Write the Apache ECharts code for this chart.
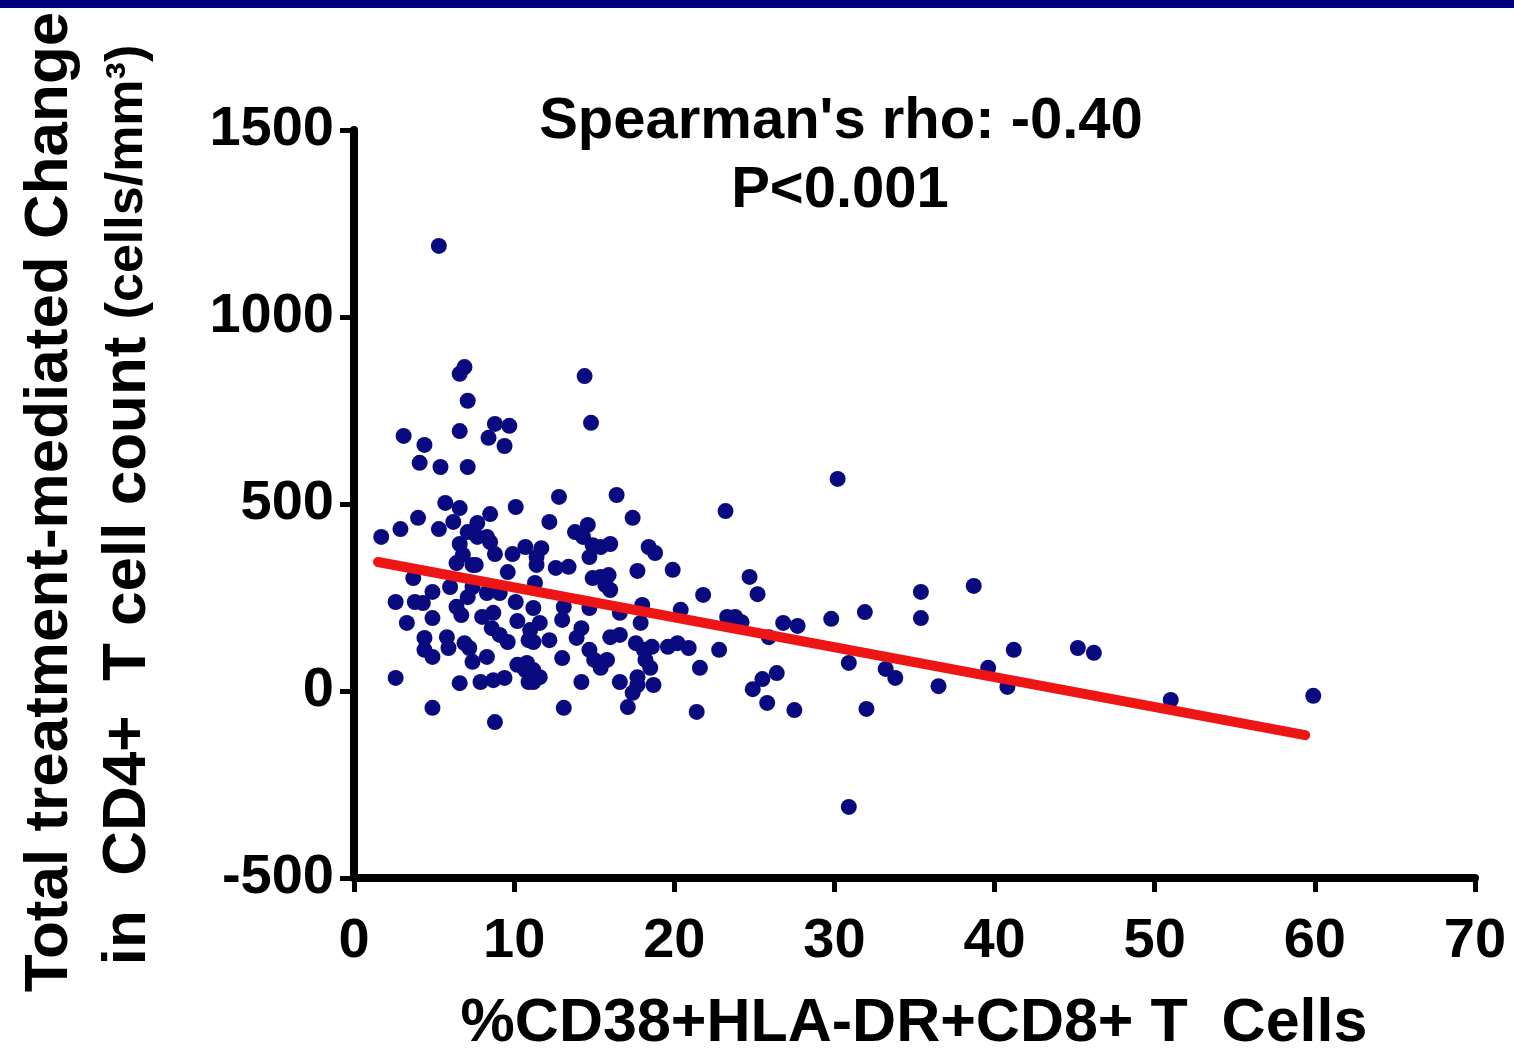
<!DOCTYPE html>
<html>
<head>
<meta charset="utf-8">
<title>CD4 change vs activated CD8 T cells</title>
<script src="https://cdn.jsdelivr.net/npm/echarts@6/dist/echarts.min.js"></script>
<style>
    html, body { margin: 0; padding: 0; background: #fff; }
    #chart { width: 1514px; height: 1050px; }
</style>
</head>
<body>
<div id="chart"></div>
<script>
// each point: [%CD38+HLA-DR+CD8+ T cells, change in CD4+ count]
const points = [
    [5.3, 1190], [6.9, 866], [6.6, 848], [14.4, 842],
    [7.1, 776], [3.1, 682], [4.4, 658], [6.6, 695], [8.8, 714], [9.7, 709], [8.4, 677], [9.4, 655],
    [4.1, 610], [5.4, 599], [7.1, 599], [5.7, 503], [6.6, 489], [10.1, 492], [8.5, 473], [4.0, 463],
    [2.9, 433], [1.7, 412], [5.3, 433], [6.2, 452], [7.7, 449], [7.1, 425], [7.7, 412], [6.6, 393],
    [8.5, 398], [10.7, 385], [8.8, 366], [9.9, 366], [6.8, 364], [8.3, 412],
    [14.8, 717], [12.8, 519], [16.4, 524], [12.2, 452], [17.4, 463], [13.8, 425], [14.6, 444], [14.3, 412],
    [14.9, 390], [15.4, 385], [16.0, 393], [11.7, 382], [18.4, 385], [18.8, 369], [14.7, 358],
    [7.4, 337], [6.4, 342], [7.6, 337], [9.6, 318], [3.7, 302], [6.0, 278], [4.9, 265], [7.4, 278],
    [7.1, 251], [8.3, 262], [9.1, 262], [2.6, 238], [3.8, 238], [4.3, 235], [6.4, 225], [6.7, 203],
    [10.1, 238], [3.3, 182], [4.9, 195], [8.0, 198], [8.7, 209], [10.2, 187], [8.6, 168], [9.1, 150],
    [9.6, 131], [4.4, 142], [5.8, 144], [4.4, 110], [5.9, 115], [4.9, 91], [6.9, 128], [7.2, 115],
    [8.3, 91], [7.4, 78], [10.2, 70], [10.7, 56], [2.6, 35], [6.6, 21], [7.9, 24], [8.7, 29],
    [9.4, 35], [10.9, 24], [4.9, -45], [8.8, -83], [10.9, 136],
    [11.4, 358], [11.4, 337], [12.6, 329], [13.4, 332], [14.9, 302], [15.4, 305], [15.9, 310], [15.7, 283],
    [16.0, 270], [17.7, 321], [19.9, 324], [21.8, 257], [11.3, 289], [18.0, 230], [20.4, 217], [13.1, 225],
    [14.7, 222], [16.6, 209], [11.2, 222], [11.6, 182], [11.0, 163], [11.2, 131], [13.0, 190], [17.9, 182],
    [14.2, 168], [13.9, 142], [12.2, 136], [16.0, 144], [16.6, 150], [14.7, 110], [15.0, 83], [15.4, 62],
    [15.8, 83], [17.6, 128], [18.1, 110], [18.2, 83], [18.5, 62], [18.6, 118], [19.6, 118], [20.2, 128],
    [20.9, 115], [13.0, 88], [10.8, 75], [11.2, 56], [11.6, 37], [11.2, 24], [17.7, 37], [17.7, 16],
    [17.4, -5], [18.7, 16], [21.6, 62], [14.2, 24], [16.6, 24], [13.1, -45], [17.1, -43], [21.4, -56],
    [30.2, 567], [23.2, 481], [24.7, 305], [25.2, 259], [23.3, 198], [23.8, 198], [24.2, 184], [26.8, 182],
    [27.7, 174], [25.9, 144], [29.8, 193], [31.9, 211], [35.4, 265], [35.4, 195], [22.8, 110], [30.9, 75],
    [26.4, 48], [25.5, 32], [24.9, 5], [25.8, -32], [33.2, 59], [33.8, 35], [36.5, 13], [27.5, -51],
    [32.0, -48], [30.9, -310],
    [38.7, 281], [41.2, 110], [39.6, 62], [40.8, 11], [45.2, 115], [46.2, 102], [51.0, -24], [59.9, -13]
];

// ends of the fitted red line
const fitX = [1.5, 59.4];
const fitY = [345, -118];

// axis ranges: min, max, step
const xScale = [0, 70, 10];
const yScale = [-500, 1500, 500];

const statText = ["Spearman's rho: -0.40", 'P<0.001'];

const fontFamily = "'Liberation Sans', Arial, sans-serif";
const chart = echarts.init(document.getElementById('chart'), null, { renderer: 'canvas' });

const axisCommon = {
    type: 'value',
    splitLine: { show: false },
    axisLine: { show: true, onZero: false, lineStyle: { color: '#000', width: 8 } },
    axisTick: { show: true, length: 14, lineStyle: { color: '#000', width: 5 } },
    axisLabel: {
        color: '#000', fontSize: 56, fontWeight: 'bold', fontFamily: fontFamily,
        formatter: v => String(v)   // no thousands separator
    }
};

chart.setOption({
    animation: false,
    backgroundColor: '#fff',
    grid: { left: 354, right: 39, top: 130, bottom: 172, outerBoundsMode: 'none' },
    xAxis: Object.assign({}, axisCommon, {
        min: xScale[0], max: xScale[1], interval: xScale[2],
        axisLabel: Object.assign({}, axisCommon.axisLabel, { margin: 36 })
    }),
    yAxis: Object.assign({}, axisCommon, {
        min: yScale[0], max: yScale[1], interval: yScale[2],
        axisLabel: Object.assign({}, axisCommon.axisLabel, { margin: 20 })
    }),
    graphic: [
        // navy strip along the top
        { type: 'rect', shape: { x: 0, y: 0, width: 1514, height: 8 }, style: { fill: '#00007f' } },
        {
            type: 'text', x: 841, y: 122,
            style: { text: statText[0], fontSize: 58, fontWeight: 'bold', fontFamily: fontFamily, fill: '#000', align: 'center', verticalAlign: 'middle' }
        },
        {
            type: 'text', x: 840, y: 191,
            style: { text: statText[1], fontSize: 58, fontWeight: 'bold', fontFamily: fontFamily, fill: '#000', align: 'center', verticalAlign: 'middle' }
        },
        {
            type: 'text', x: 914, y: 1024,
            style: { text: '%CD38+HLA-DR+CD8+ T  Cells', fontSize: 61, fontWeight: 'bold', fontFamily: fontFamily, fill: '#000', align: 'center', verticalAlign: 'middle' }
        },
        // y axis title, two rotated lines
        {
            type: 'text', x: 50, y: 502, rotation: Math.PI / 2,
            style: { text: 'Total treatment-mediated Change', fontSize: 62, fontWeight: 'bold', fontFamily: fontFamily, fill: '#000', align: 'center', verticalAlign: 'middle' }
        },
        {
            type: 'text', x: 128, y: 505, rotation: Math.PI / 2,
            style: {
                text: '{a|in  CD4+  T cell count }{b|(cells/mm³)}',
                fill: '#000', align: 'center', verticalAlign: 'middle',
                rich: {
                    a: { fontSize: 62, fontWeight: 'bold', fontFamily: fontFamily, fill: '#000' },
                    b: { fontSize: 52, fontWeight: 'bold', fontFamily: fontFamily, fill: '#000' }
                }
            }
        }
    ],
    series: [
        {
            type: 'scatter',
            data: points,
            symbolSize: 16,
            itemStyle: { color: '#0a0a80', opacity: 1 },
            z: 2
        },
        {
            type: 'line',
            data: fitX.map((x, i) => [x, fitY[i]]),
            symbol: 'none',
            lineStyle: { color: '#ee1515', width: 10, cap: 'round' },
            z: 3
        }
    ]
});
</script>
</body>
</html>
